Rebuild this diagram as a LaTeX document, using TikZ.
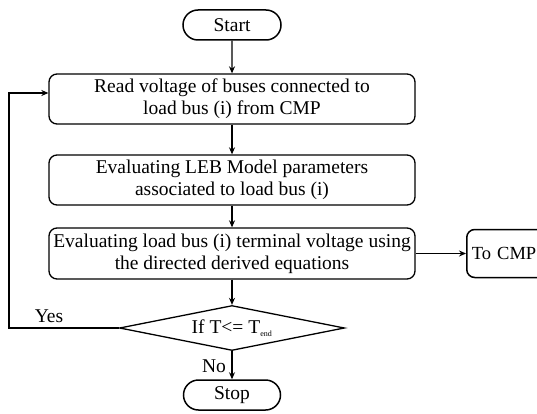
\documentclass[tikz,border=0pt]{standalone}
\usepackage{fontspec}
\setmainfont{Liberation Serif}
\usetikzlibrary{shapes.geometric,shapes.misc,arrows.meta}
\begin{document}
\begin{tikzpicture}[x=1pt,y=1pt,
  every node/.style={font=\fontsize{19.5}{22}\selectfont},
  arr/.style={line width=1.2pt,-{Stealth[length=7pt,width=6pt]}},
  term/.style={draw,line width=1.5pt,rounded rectangle,inner sep=0pt,minimum height=30pt},
  proc/.style={draw,line width=1.3pt,rounded corners=8pt,align=center,inner sep=0pt,
               minimum width=366pt,minimum height=50pt},
  decide/.style={draw,line width=1.3pt,diamond,shape aspect=5,inner sep=0pt,
                 minimum width=225pt,minimum height=45pt},
  lbl/.style={inner sep=0pt}]
\useasboundingbox (0,0) rectangle (537,413);

\node[term,minimum width=98pt] (start) at (232,388) {Start};
\node[proc] (read) at (232,314) {Read voltage of buses connected to\\load bus (i) from CMP};
\node[proc] (leb) at (232,233) {Evaluating LEB Model parameters\\associated to load bus (i)};
\node[proc,minimum height=51pt] (term3) at (232,159.5) {Evaluating load bus (i) terminal voltage using\\the directed derived equations};
\node[draw,line width=1.5pt,rounded corners=8pt,anchor=west,text width=74pt,align=left,
      inner xsep=5pt,inner ysep=0pt,minimum height=48pt,font=\fontsize{18.5}{22}\selectfont]
      (tocmp) at (466,159.5) {To CMP};
\node[decide] (test) at (232,85) {If T<= T\textsubscript{\fontsize{8}{9}\selectfont end}};
\node[term,minimum width=97pt] (stop) at (232,18) {Stop};

\draw[arr] (start) -- (read);
\draw[arr] (read) -- (leb);
\draw[arr] (leb) -- (term3);
\draw[arr] (term3) -- (tocmp);
\draw[arr] (term3) -- (test);
\draw[arr] (test) -- (stop);

\coordinate (loopbot) at (9,85);
\coordinate (looptop) at (9,320);
\draw[arr] (test.west) -- (loopbot) -- (looptop) -- (read.west |- looptop);

\node[lbl] (yes) at (49,97) {Yes};
\node[lbl] (no) at (214,47) {No};
\end{tikzpicture}
\end{document}
